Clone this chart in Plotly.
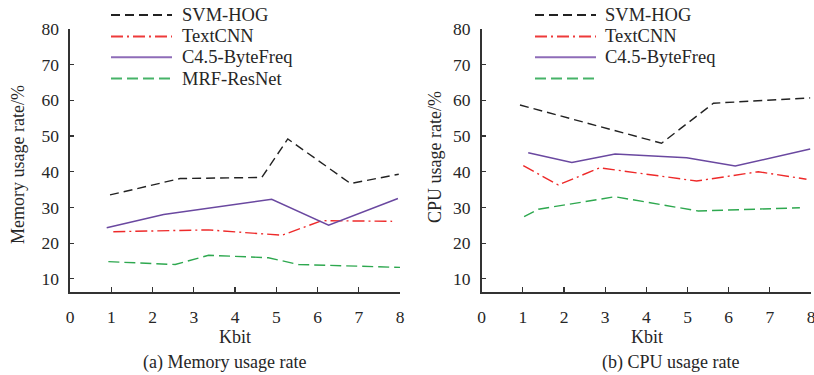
import plotly.graph_objects as go

# ---------------- data ----------------
series_names = ["SVM-HOG", "TextCNN", "C4.5-ByteFreq", "MRF-ResNet"]

# (a) Memory usage rate
mem_svm_x = [0.97, 2.67, 4.65, 5.28, 6.80, 7.97]
mem_svm_y = [33.5, 38.1, 38.4, 49.2, 36.7, 39.3]
mem_cnn_x = [1.05, 3.36, 5.14, 6.11, 7.81]
mem_cnn_y = [23.2, 23.7, 22.2, 26.3, 26.1]
mem_c45_x = [0.89, 2.27, 4.89, 6.27, 7.95]
mem_c45_y = [24.3, 28.0, 32.3, 25.0, 32.5]
mem_mrf_x = [0.93, 2.55, 3.36, 4.81, 5.54, 8.0]
mem_mrf_y = [14.8, 14.0, 16.6, 15.9, 14.0, 13.2]

# (b) CPU usage rate
cpu_svm_x = [0.93, 4.37, 5.63, 7.98]
cpu_svm_y = [58.7, 48.0, 59.2, 60.7]
cpu_cnn_x = [1.01, 1.86, 2.87, 5.22, 6.72, 7.89]
cpu_cnn_y = [41.7, 36.3, 41.1, 37.4, 40.0, 37.9]
cpu_c45_x = [1.13, 2.19, 3.24, 4.98, 6.16, 7.98]
cpu_c45_y = [45.3, 42.6, 45.0, 43.9, 41.6, 46.4]
cpu_mrf_x = [1.03, 1.38, 3.24, 5.26, 7.73]
cpu_mrf_y = [27.4, 29.5, 33.0, 29.0, 29.9]

x_ticks = [0, 1, 2, 3, 4, 5, 6, 7, 8]
y_ticks = [10, 20, 30, 40, 50, 60, 70, 80]

# ---------------- styles ----------------
W, H = 814, 375
FONT = "Liberation Serif, Times New Roman, serif"
TXT = "#262626"
styles = [
    dict(color="#222222", dash="9px,5px", width=1.4),
    dict(color="#ee2a2a", dash="12px,4px,2px,4px", width=1.4),
    dict(color="#6a48a0", dash="solid", width=1.5),
    dict(color="#2ea84f", dash="11px,5px", width=1.4),
]
legend_sample_colors = ["#222222", "#ee3a3a", "#8e6cb8", "#46b368"]

fig = go.Figure()

mem = [(mem_svm_x, mem_svm_y), (mem_cnn_x, mem_cnn_y), (mem_c45_x, mem_c45_y), (mem_mrf_x, mem_mrf_y)]
cpu = [(cpu_svm_x, cpu_svm_y), (cpu_cnn_x, cpu_cnn_y), (cpu_c45_x, cpu_c45_y), (cpu_mrf_x, cpu_mrf_y)]

for i, (xs, ys) in enumerate(mem):
    fig.add_trace(go.Scatter(x=xs, y=ys, mode="lines", name=series_names[i],
                             line=styles[i], xaxis="x", yaxis="y", showlegend=False))
for i, (xs, ys) in enumerate(cpu):
    fig.add_trace(go.Scatter(x=xs, y=ys, mode="lines", name=series_names[i],
                             line=styles[i], xaxis="x2", yaxis="y2", showlegend=False))

def px(x):
    return x / W

def py(y):
    return 1 - y / H

axis_common = dict(
    showline=True, linecolor="#333333", linewidth=1.6, mirror=False,
    ticks="inside", tickcolor="#333333", tickwidth=1.2,
    showgrid=False, zeroline=False, automargin=False,
    ticklabeloverflow="allow",
    tickfont=dict(family=FONT, size=17.5, color=TXT),
)

ydom = [py(292), py(29)]
fig.update_layout(
    width=W, height=H, autosize=False,
    margin=dict(l=0, r=0, t=0, b=0, pad=0),
    paper_bgcolor="white", plot_bgcolor="white",
    showlegend=False,
    xaxis=dict(domain=[px(70), px(400)], range=[0, 8], tickvals=x_ticks, ticklen=5,
               anchor="y", ticklabelstandoff=8, **axis_common),
    yaxis=dict(domain=ydom, range=[6.3, 80], tickvals=y_ticks, ticklen=4,
               anchor="x", ticklabelstandoff=6, **axis_common),
    xaxis2=dict(domain=[px(481.7), px(811)], range=[0, 8], tickvals=x_ticks, ticklen=5,
                anchor="y2", ticklabelstandoff=8, **axis_common),
    yaxis2=dict(domain=ydom, range=[6.3, 80], tickvals=y_ticks, ticklen=4,
                anchor="x2", ticklabelstandoff=6, **axis_common),
)

annotations = []
def txt(x, y, s, xanchor="center", angle=0, size=18):
    annotations.append(dict(x=px(x), y=py(y), xref="paper", yref="paper", text=s,
                            showarrow=False, xanchor=xanchor, yanchor="middle",
                            textangle=angle, font=dict(family=FONT, size=size, color=TXT)))

txt(235, 336.5, "Kbit")
txt(646.5, 336.5, "Kbit")
txt(224, 362.5, "(a) Memory usage rate")
txt(670, 362.5, "(b) CPU usage rate")
txt(18, 165, "Memory usage rate/%", angle=-90)
txt(435, 157, "CPU usage rate/%", angle=-90)

# legends (drawn as line samples + labels)
legend_rows = [15, 36.5, 57.3, 78.5]
shapes = []
for (x0, x1, xt, labels) in [(111, 172, 180, series_names),
                             (535, 596, 603, series_names[:3] + [""])]:
    for i, yy in enumerate(legend_rows):
        st = styles[i]
        shapes.append(dict(type="line", xref="paper", yref="paper",
                           x0=px(x0), x1=px(x1), y0=py(yy), y1=py(yy),
                           line=dict(color=legend_sample_colors[i], dash=st["dash"], width=2)))
        if labels[i]:
            txt(xt, yy, labels[i], xanchor="left", size=18.5)

fig.update_layout(annotations=annotations, shapes=shapes)
fig.write_html("out.html", config={"displayModeBar": False, "staticPlot": True},
               post_script="document.body.style.margin='0';document.body.style.overflow='hidden';")
